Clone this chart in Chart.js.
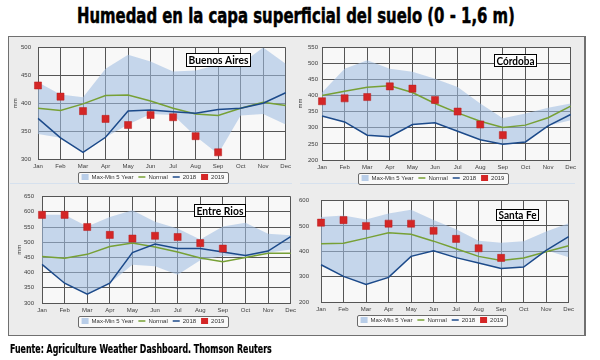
<!DOCTYPE html>
<html><head><meta charset="utf-8">
<script src="https://cdn.jsdelivr.net/npm/chart.js@4.4.1/dist/chart.umd.min.js"></script>
<style>
html,body{margin:0;padding:0;background:#fff;}
#wrap{position:relative;width:600px;height:360px;overflow:hidden;background:#fff;}
.txt{position:absolute;white-space:nowrap;color:#000;font-family:"Liberation Sans Narrow","DejaVu Sans Condensed","DejaVu Sans",sans-serif;font-weight:bold;line-height:1;transform-origin:0 0;display:inline-block;}
#title{left:77px;top:5px;font-size:22px;-webkit-text-stroke:0.5px #000;}
#foot{left:10px;top:342px;font-size:13px;-webkit-text-stroke:0.2px #000;}
#frame{position:absolute;left:8px;top:36px;width:578px;height:300px;background:#ececec;border:1px solid #707070;border-right:2px solid #707070;box-sizing:border-box;}
.sep{position:absolute;height:1px;background:#d6e1ee;}
canvas{position:absolute;}
</style></head>
<body><div id="wrap">
<span id="title" class="txt">Humedad en la capa superficial del suelo (0 - 1,6 m)</span>
<div id="frame"></div>
<div class="sep" style="left:10px;top:183px;width:282px"></div>
<div class="sep" style="left:300px;top:183px;width:275px"></div>
<canvas id="c1" style="left:8px;top:37px" width="287" height="153"></canvas>
<canvas id="c2" style="left:292px;top:37px" width="288" height="154"></canvas>
<canvas id="c3" style="left:8px;top:185px" width="292" height="149"></canvas>
<canvas id="c4" style="left:292px;top:185px" width="286" height="148"></canvas>
<span id="foot" class="txt">Fuente: Agriculture Weather Dashboard. Thomson Reuters</span>
</div>
<script>
const months = ['Jan','Feb','Mar','Apr','May','Jun','Jul','Aug','Sep','Oct','Nov','Dec'];
const seriesNames = ['Max-Min 5 Year','Normal','2018','2019'];

// Buenos Aires
const baMax    = [438, 416, 411, 462, 487, 475, 457, 459, 469, 470, 500, 471];
const baMin    = [345, 338, 312, 339, 362, 381, 379, 341, 309, 378, 381, 362];
const baNormal = [391, 387, 399, 414, 415, 404, 391, 381, 378, 391, 402, 396];
const ba2018   = [373, 338, 312, 339, 386, 388, 385, 382, 389, 391, 400, 419];
const ba2019   = [432, 412, 386, 372, 361, 379, 375, 341, 312, null, null, null];

// Córdoba
const coMax    = [409, 483, 509, 483, 473, 452, 426, 375, 329, 344, 362, 375];
const coMin    = [336, 318, 277, 270, 310, 315, 289, 263, 249, 256, 306, 323];
const coNormal = [400, 413, 425, 430, 409, 375, 346, 320, 301, 308, 331, 367];
const co2018   = [336, 318, 277, 272, 310, 315, 289, 263, 249, 256, 306, 341];
const co2019   = [382, 391, 395, 428, 421, 386, 350, 310, 277, null, null, null];

// Entre Rios
const erMax    = [590, 590, 552, 583, 605, 567, 545, 509, 552, 564, 528, 523];
const erMin    = [427, 365, 329, 365, 426, 421, 393, 441, 455, 452, 465, 476];
const erNormal = [453, 447, 460, 486, 497, 484, 468, 448, 436, 450, 464, 464];
const er2018   = [427, 365, 329, 365, 466, 494, 479, 479, 468, 456, 471, 518];
const er2019   = [590, 590, 550, 524, 512, 521, 517, 497, 479, null, null, null];

// Santa Fe
const sfMax    = [535, 541, 525, 549, 564, 523, 487, 442, 434, 440, 478, 511];
const sfMin    = [347, 301, 269, 297, 380, 402, 375, 354, 332, 338, 404, 377];
const sfNormal = [430, 432, 452, 473, 467, 440, 410, 380, 364, 374, 398, 422];
const sf2018   = [347, 301, 269, 297, 380, 402, 375, 354, 332, 338, 404, 458];
const sf2019   = [513, 523, 500, 509, 509, 481, 449, 412, 374, null, null, null];

// fit title / footer widths
function fitText(id, w){ const el=document.getElementById(id); const s=w/el.offsetWidth; el.style.transform='scaleX('+s+')'; }
fitText('title', 438); fitText('foot', 262);

const BAND='rgba(160,190,226,0.58)', GREEN='#77a035', NAVY='#1c4a8a', RED='#d42626', GRID='#555555', TICK='#3c3c3c';
const FONT='"Liberation Sans", Arial, sans-serif';

const deco = {
  id:'deco',
  afterUpdate(chart, args, o){
    const lg = chart.legend; if(!lg || !lg.legendHitBoxes.length) return;
    let l=Infinity,r=-Infinity;
    lg.legendHitBoxes.forEach(h=>{l=Math.min(l,h.left);r=Math.max(r,h.left+h.width);});
    const dx = o.legendCenter - (l+r)/2;
    lg.left+=dx; lg.right+=dx;
    lg.legendHitBoxes.forEach(h=>{h.left+=dx;});
  },
  beforeDraw(chart, args, o){
    const {ctx, chartArea:a} = chart;
    ctx.save();
    ctx.fillStyle='#f8f8f8';
    ctx.fillRect(a.left,a.top,a.right-a.left,a.bottom-a.top);
    const lg = chart.legend;
    if(lg && lg.legendHitBoxes.length){
      let l=Infinity,r=-Infinity,t=Infinity,b=-Infinity;
      lg.legendHitBoxes.forEach(h=>{l=Math.min(l,h.left);r=Math.max(r,h.left+h.width);t=Math.min(t,h.top);b=Math.max(b,h.top+h.height);});
      const x=Math.round(l-4)+0.5, y=Math.round(t-2.5)+0.5, w=Math.round(r-l+7), hh=Math.round(b-t+5);
      ctx.fillStyle='#f9f9f9'; ctx.strokeStyle='#6a6a6a'; ctx.lineWidth=1;
      ctx.beginPath(); ctx.roundRect(x,y,w,hh,1.5); ctx.fill(); ctx.stroke();
    }
    ctx.restore();
  },
  afterDatasetsDraw(chart, args, o){
    const {ctx, chartArea:a} = chart;
    const cx = a.left + (a.right-a.left)*o.fx;
    const x = Math.round(cx - o.w/2)+0.5, y = Math.round(a.top + o.dy)+0.5;
    ctx.save();
    ctx.fillStyle='#ffffff'; ctx.strokeStyle='#000'; ctx.lineWidth=1;
    ctx.fillRect(x,y,o.w,o.h); ctx.strokeRect(x,y,o.w,o.h);
    ctx.fillStyle='#000'; ctx.font='bold 11px Lato, "Liberation Sans", sans-serif';
    ctx.textAlign='center'; ctx.textBaseline='middle';
    ctx.fillText(o.text, x+o.w/2, y+o.h/2+0.5, o.w-4);
    ctx.restore();
  }
};

function makeChart(id, cfg, mx, mn, nor, y18, y19){
  const datasets = [
    {label:seriesNames[0], data:mx, fill:'+1', backgroundColor:BAND, borderWidth:0, pointRadius:0, order:10,
     legendStyle:'rect', legendFill:'#b8cde8', legendStroke:'rgba(0,0,0,0)', legendLine:0},
    {label:'', data:mn, fill:false, borderWidth:0, pointRadius:0, order:11, backgroundColor:BAND},
    {label:seriesNames[1], data:nor, borderColor:GREEN, borderWidth:1.5, pointRadius:0, fill:false, order:3,
     legendStyle:'line', legendFill:GREEN, legendStroke:GREEN, legendLine:1.5},
    {label:seriesNames[2], data:y18, borderColor:NAVY, borderWidth:1.5, pointRadius:0, fill:false, order:2,
     legendStyle:'line', legendFill:NAVY, legendStroke:NAVY, legendLine:1.5},
    {label:seriesNames[3], data:y19, showLine:false, pointStyle:'rect', pointRadius:5, backgroundColor:RED,
     borderColor:'#b81c1c', borderWidth:0.5, fill:false, order:1,
     legendStyle:'rect', legendFill:RED, legendStroke:RED, legendLine:0}
  ];
  return new Chart(document.getElementById(id), {
    type:'line',
    data:{labels:months, datasets},
    options:{
      responsive:false, animation:false, devicePixelRatio:1,
      layout:{padding:cfg.pad},
      plugins:{
        tooltip:{enabled:false},
        legend:{position:'bottom',
          labels:{font:{size:6, family:FONT}, color:'#333', usePointStyle:true, pointStyleWidth:7, boxHeight:6, padding:5,
            generateLabels(ch){
              return ch.data.datasets.map((ds,i)=>({text:ds.label, fillStyle:ds.legendFill, strokeStyle:ds.legendStroke,
                lineWidth:ds.legendLine, pointStyle:ds.legendStyle, hidden:false, datasetIndex:i, fontColor:'#333'})).filter(l=>l.text);
            }}},
        deco:cfg.deco
      },
      scales:{
        x:{grid:{color:GRID, lineWidth:1, drawTicks:false}, border:{color:GRID},
           ticks:{font:{size:6, family:FONT}, color:TICK, padding:4, maxRotation:0, autoSkip:false},
           afterFit(s){ s.height=10; }},
        y:{min:cfg.min, max:cfg.max, grid:{color:GRID, lineWidth:1, drawTicks:false}, border:{color:GRID},
           ticks:{stepSize:cfg.step, font:{size:6, family:FONT}, color:TICK, padding:cfg.tp},
           title:{display:cfg.title, text:'mm', font:{size:6, family:FONT}, color:TICK, padding:{top:0,bottom:0}},
           afterFit(s){ s.width=cfg.yw; }}
      }
    },
    plugins:[deco]
  });
}

makeChart('c1', {pad:{left:4,right:8,top:10,bottom:0}, yw:26, tp:7, min:300, max:500, step:50, title:true,
  deco:{legendCenter:153-8, text:'Buenos Aires', fx:0.727, dy:5, w:64, h:13}}, baMax, baMin, baNormal, ba2018, ba2019);
makeChart('c2', {pad:{left:5,right:8,top:10,bottom:0}, yw:25, tp:4, min:200, max:550, step:50, title:true,
  deco:{legendCenter:433-292, text:'Córdoba', fx:0.778, dy:7, w:42, h:12}}, coMax, coMin, coNormal, co2018, co2019);
makeChart('c3', {pad:{left:8,right:8,top:6,bottom:0}, yw:26, tp:8, min:300, max:650, step:50, title:true,
  deco:{legendCenter:153-8, text:'Entre Rios', fx:0.712, dy:7, w:51, h:12}}, erMax, erMin, erNormal, er2018, er2019);
makeChart('c4', {pad:{left:5,right:8,top:5,bottom:0}, yw:24, tp:12, min:200, max:600, step:100, title:false,
  deco:{legendCenter:432-292, text:'Santa Fe', fx:0.793, dy:8, w:42, h:11}}, sfMax, sfMin, sfNormal, sf2018, sf2019);
</script>
</body></html>
